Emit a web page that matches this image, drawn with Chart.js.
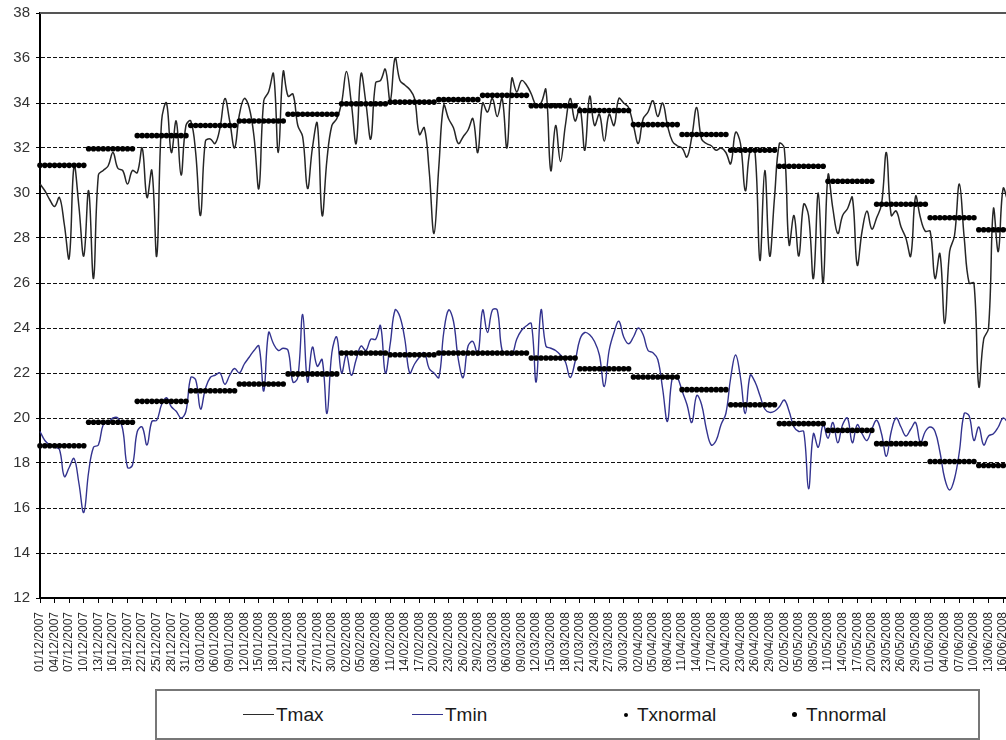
<!DOCTYPE html>
<html>
<head>
<meta charset="utf-8">
<title>Tmax / Tmin</title>
<script src="https://cdn.jsdelivr.net/npm/chart.js@4.4.1/dist/chart.umd.min.js"></script>
<style>
  html, body { margin: 0; padding: 0; background: #fff; width: 1006px; height: 740px; overflow: hidden; }
  #wrap { position: absolute; left: 0; top: 0; width: 1012px; height: 690px; }
  #legend {
    position: absolute; left: 155px; top: 689px; width: 821px; height: 47px;
    border: 2px solid #777; background: #fff;
    font-family: "Liberation Sans", Arial, sans-serif; font-size: 19px; color: #1a1a1a;
  }
  .item { position: absolute; top: 0; height: 47px; display: flex; align-items: center; white-space: nowrap; }
  .ln { display: inline-block; width: 31px; height: 0; border-top: 1.5px solid #2b2b2b; margin-right: 2px; }
  .dot { display: inline-block; border-radius: 50%; background: #000; margin-right: 9px; }
</style>
</head>
<body>
<div id="wrap"><canvas id="c" width="1012" height="690"></canvas></div>
<div id="legend">
  <div class="item" style="left:86px"><span class="ln"></span>Tmax</div>
  <div class="item" style="left:255px"><span class="ln" style="border-top-color:#33338f"></span>Tmin</div>
  <div class="item" style="left:467px"><span class="dot" style="width:4px;height:4px"></span>Txnormal</div>
  <div class="item" style="left:635px"><span class="dot" style="width:5px;height:5px"></span>Tnnormal</div>
</div>
<script>
// Daily maximum temperature, from 01/12/2007
const tmax = [
  30.4, 30.1, 29.7, 29.4, 29.8, 28.6, 27.1, 31.2, 29.4, 27.2,
  30.1, 26.2, 30.8, 31.0, 31.2, 31.8, 31.1, 31.0, 30.4, 31.0,
  30.9, 32.0, 29.8, 31.0, 27.2, 33.2, 34.0, 31.8, 33.2, 30.8,
  33.0, 33.2, 31.8, 29.0, 32.3, 32.4, 32.2, 32.9, 34.2, 33.2,
  32.0, 33.5, 34.2, 33.8, 32.5, 30.2, 34.1, 34.5, 35.3, 31.8,
  35.4, 34.3, 34.4, 33.0, 32.5, 30.2, 32.0, 33.1, 29.0, 31.5,
  33.0, 33.3, 34.0, 35.4, 34.0, 32.2, 35.3, 34.0, 32.4, 34.9,
  35.0, 35.5, 34.1, 36.0, 35.0, 34.8, 34.6, 34.2, 32.6, 32.9,
  31.0, 28.2, 31.2, 33.9, 33.3, 32.9, 32.2, 32.5, 32.8, 33.3,
  31.8, 34.0, 33.6, 34.2, 33.4, 34.2, 32.0, 35.1, 34.5, 35.0,
  34.8, 34.4, 33.9, 34.0, 34.6, 31.0, 33.0, 31.4, 33.0, 34.2,
  33.2, 33.8, 31.9, 34.3, 33.0, 33.5, 32.3, 33.5, 33.0, 34.2,
  34.0, 33.8, 33.0, 32.2, 33.3, 33.6, 34.1, 33.4, 34.0, 33.0,
  32.3, 32.1, 32.0, 31.6, 32.5, 33.8, 32.4, 32.2, 32.1, 31.9,
  32.0, 31.8, 31.3, 32.7, 32.2, 30.1, 31.9, 31.8, 27.0, 31.0,
  27.2, 29.8, 32.2, 32.0, 27.7, 29.0, 27.2, 29.5, 29.0, 26.2,
  30.0, 26.0, 30.8, 29.3, 28.2, 29.0, 29.3, 29.8, 26.8, 28.3,
  29.2, 28.4, 28.9, 29.5, 31.8, 29.0, 29.2, 28.5, 28.0, 27.2,
  29.85, 28.9, 28.3, 28.3, 26.2, 27.3, 24.2, 27.4, 28.1, 30.4,
  28.0, 26.0, 26.0, 21.4, 23.5, 24.0, 29.3, 27.4, 30.2, 29.6
];

// Daily minimum temperature, same days
const tmin = [
  19.4, 19.0, 18.8, 18.7, 18.6, 17.4, 17.8, 18.2, 17.1, 15.8,
  17.6, 18.7, 18.8, 19.7, 19.8, 20.0, 20.0, 19.5, 17.8, 17.9,
  19.4, 19.6, 18.8, 19.85, 19.9, 20.6, 20.9, 20.5, 20.3, 20.0,
  20.3, 21.8, 21.7, 20.4, 21.3, 21.8, 21.9, 22.0, 21.5, 21.9,
  22.2, 22.0, 22.4, 22.7, 23.0, 23.2, 21.2, 23.8, 23.3, 23.0,
  23.1, 23.0, 21.6, 21.8, 24.6, 21.6, 23.15, 22.3, 22.6, 20.2,
  22.9, 23.6, 22.0, 22.8, 21.9, 22.6, 23.2, 23.0, 23.5, 23.5,
  24.1, 22.0, 23.3, 24.8, 24.5, 23.5, 22.0, 22.4, 22.7, 22.9,
  22.2, 22.0, 21.8, 23.8, 24.8, 24.3, 22.6, 21.8, 23.2, 23.4,
  22.8, 24.8, 23.8, 24.8, 24.8, 23.0, 22.9, 22.8, 23.5, 23.9,
  24.1, 24.2, 21.6, 24.8, 23.2, 23.1, 23.0, 22.8, 22.5, 21.8,
  22.5, 23.5, 23.8, 23.7, 23.4, 22.8, 21.4, 23.0, 23.8, 24.3,
  23.6, 23.3, 23.6, 24.0, 23.7, 23.0, 22.9, 22.6, 21.3, 19.85,
  21.8, 21.8, 21.2, 20.6, 19.8, 21.0, 20.6, 19.5, 18.8, 19.0,
  19.7, 20.2, 21.8, 22.8, 21.8, 20.2, 21.9, 21.6, 21.0, 20.4,
  20.25, 20.3, 20.5, 20.8, 20.3, 19.6, 19.4, 19.4, 16.85, 19.3,
  18.7, 19.7, 19.1, 19.8, 18.9, 19.7, 20.0, 18.9, 19.7, 19.3,
  19.0, 19.5, 19.9, 19.3, 18.3, 19.4, 20.0, 19.6, 19.2, 19.5,
  19.8, 18.9, 19.4, 19.6, 19.4, 18.5, 17.3, 16.8, 17.3, 18.5,
  20.2, 20.1, 19.0, 19.6, 18.8, 19.2, 19.3, 19.6, 20.0, 19.8
];

// Ten-day normals (1-10, 11-20, 21-end of each month), Dec 2007 .. Jun 2008
const txNormalDekads = [31.23, 31.97, 32.55, 33.0, 33.2, 33.5, 33.97, 34.04, 34.15, 34.34,
                        33.88, 33.67, 33.04, 32.6, 31.9, 31.19, 30.52, 29.5, 28.9, 28.37];
const tnNormalDekads = [18.77, 19.81, 20.74, 21.21, 21.51, 21.96, 22.89, 22.81, 22.89, 22.89,
                        22.67, 22.19, 21.82, 21.26, 20.59, 19.75, 19.45, 18.86, 18.07, 17.89];

// Y axis range and step
const yMin = 12, yMax = 38, yStep = 2;
// A date label every this many days
const labelEvery = 3;

// Calendar labels dd/mm/yyyy and the ten-day period of each day
const pad = n => String(n).padStart(2, '0');
const dayLabels = [];
const dekadOfDay = [];
for (let i = 0; i < tmax.length; i++) {
  const dt = new Date(2007, 11, 1 + i);
  dayLabels.push(pad(dt.getDate()) + '/' + pad(dt.getMonth() + 1) + '/' + dt.getFullYear());
  const monthIdx = (dt.getFullYear() - 2007) * 12 + dt.getMonth() - 11;
  const part = Math.min(Math.floor((dt.getDate() - 1) / 10), 2);
  dekadOfDay.push(monthIdx * 3 + part);
}
const txNormal = dekadOfDay.map(k => txNormalDekads[k]);
const tnNormal = dekadOfDay.map(k => tnNormalDekads[k]);

Chart.defaults.font.family = '"Liberation Sans", Arial, sans-serif';

// Solid frame line along the top of the plot area
const topFrame = {
  id: 'topFrame',
  afterDatasetsDraw(chart) {
    const { ctx, chartArea: a } = chart;
    ctx.save();
    ctx.strokeStyle = '#555';
    ctx.lineWidth = 2;
    ctx.beginPath();
    ctx.moveTo(a.left, a.top);
    ctx.lineTo(a.right + 5, a.top);
    ctx.stroke();
    ctx.restore();
  }
};

new Chart(document.getElementById('c'), {
  type: 'line',
  data: {
    labels: dayLabels,
    datasets: [
      { label: 'Tmax', data: tmax, borderColor: '#262626', borderWidth: 1.5,
        pointRadius: 0, tension: 0.4, fill: false, order: 2 },
      { label: 'Tmin', data: tmin, borderColor: '#33338f', borderWidth: 1.4,
        pointRadius: 0, tension: 0.4, fill: false, order: 2 },
      { label: 'Txnormal', data: txNormal, showLine: false, pointRadius: 2.8,
        pointBackgroundColor: '#000', pointBorderWidth: 0, order: 1 },
      { label: 'Tnnormal', data: tnNormal, showLine: false, pointRadius: 2.8,
        pointBackgroundColor: '#000', pointBorderWidth: 0, order: 1 }
    ]
  },
  options: {
    responsive: false,
    animation: false,
    devicePixelRatio: 1,
    layout: { padding: { top: 13, right: 3, left: 0, bottom: 0 } },
    plugins: { legend: { display: false }, tooltip: { enabled: false } },
    scales: {
      x: {
        type: 'category',
        offset: false,
        afterBuildTicks: s => { s.ticks = s.ticks.filter(t => t.value % labelEvery === 0); },
        afterFit: s => { s.height = 92; s.paddingLeft = 0; s.paddingRight = 0; },
        grid: { drawOnChartArea: false, drawTicks: true, tickLength: 5, color: '#000', lineWidth: 1 },
        border: { color: '#000', width: 2 },
        ticks: { autoSkip: false, maxRotation: 90, minRotation: 90, padding: 9,
                 color: '#2a2a2a', font: { size: 12 } }
      },
      y: {
        min: yMin, max: yMax,
        afterFit: s => { s.width = 40; s.paddingTop = 0; s.paddingBottom = 0; },
        grid: {
          color: c => (c.tick && c.tick.value === yMax) ? 'rgba(0,0,0,0)' : '#111',
          tickColor: '#000', tickLength: 4, lineWidth: 1
        },
        border: { color: '#000', width: 2, dash: [4, 2] },
        ticks: { stepSize: yStep, padding: 6, color: '#333', font: { size: 15 } }
      }
    }
  },
  plugins: [topFrame]
});
</script>
</body>
</html>
